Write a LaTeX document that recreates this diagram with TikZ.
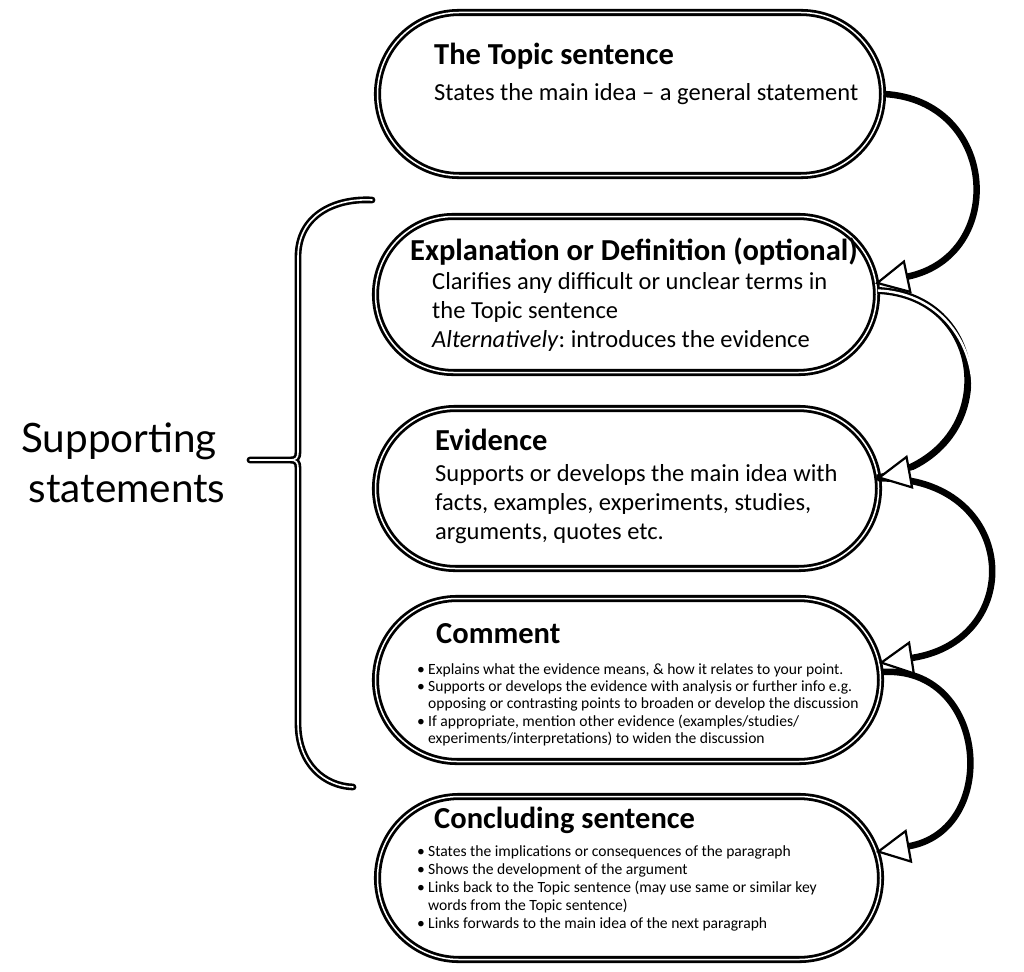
\documentclass[tikz,border=0pt]{standalone}
\usepackage{fontspec}
\setmainfont{Carlito}
\newfontfamily\labelfont{Lato}
\usetikzlibrary{shapes.misc, arrows.meta}

\newcommand\bulmark{\makebox[11pt][l]{•}}
\newcommand\bulindent{\hspace*{11pt}}
\frenchspacing

\begin{document}
\begin{tikzpicture}[x=1pt, y=-1pt,
  stadium/.style={rounded rectangle, draw=black, line width=2.8pt,
    double=white, double distance=1.5pt, inner sep=0pt},
  head/.style={anchor=base west, inner sep=0pt, font=\bfseries\fontsize{30.5}{36}\selectfont},
  body/.style={anchor=base west, inner sep=0pt, font=\fontsize{24.5}{28}\selectfont},
  small/.style={anchor=base west, inner sep=0pt, font=\fontsize{15.6}{19}\selectfont},
  side/.style={anchor=base, inner sep=0pt, font=\labelfont\fontsize{40.5}{48}\selectfont},
  opentip/.style={-{Triangle[length=34pt, width=34pt, fill=white, color=black, line width=2.2pt]}},
  flow/.style={draw=black, line width=6.5pt, opentip},
  bracket/.style={draw=black, line width=2.6pt, double=white, double distance=1.6pt,
    line cap=round, line join=round}
]
\fill[white] (0,0) rectangle (1024,971);
\useasboundingbox (0,0) rectangle (1024,971);

% the five stages of the paragraph
\node[stadium, minimum width=505pt, minimum height=163pt] (b1) at (630,94) {};
\node[stadium, minimum width=501pt, minimum height=156pt] (b2) at (626,294.5) {};
\node[stadium, minimum width=503pt, minimum height=160pt] (b3) at (627,488.5) {};
\node[stadium, minimum width=505pt, minimum height=163pt] (b4) at (628,680) {};
\node[stadium, minimum width=503pt, minimum height=163pt] (b5) at (629,878) {};

% topic sentence
\node[head] (h1) at (434,65) {The Topic sentence};
\node[body] (t1a) at (434,100) {States the main idea -- a general statement};

% explanation
\node[head] (h2) at (410,260) {Explanation or Definition (optional)};
\node[body] (t2a) at (432,289) {Clarifies any difficult or unclear terms in};
\node[body] (t2b) at (432,318) {the Topic sentence};
\node[body] (t2c) at (432,347) {\textit{Alternatively}: introduces the evidence};

% evidence
\node[head] (h3) at (435,450) {Evidence};
\node[body] (t3a) at (435,481) {Supports or develops the main idea with};
\node[body] (t3b) at (435,510) {facts, examples, experiments, studies,};
\node[body] (t3c) at (435,539) {arguments, quotes etc.};

% comment
\node[head] (h4) at (436,643) {Comment};
\node[small] (t4a) at (417,674) {\bulmark Explains what the evidence means, \& how it relates to your point.};
\node[small] (t4b) at (417,691) {\bulmark Supports or develops the evidence with analysis or further info e.g.};
\node[small] (t4c) at (417,708) {\bulindent opposing or contrasting points to broaden or develop the discussion};
\node[small] (t4d) at (417,726) {\bulmark If appropriate, mention other evidence (examples/studies/};
\node[small] (t4e) at (417,743) {\bulindent experiments/interpretations) to widen the discussion};

% concluding sentence
\node[head] (h5) at (434,828) {Concluding sentence};
\node[small] (t5a) at (417,856) {\bulmark States the implications or consequences of the paragraph};
\node[small] (t5b) at (417,874) {\bulmark Shows the development of the argument};
\node[small] (t5c) at (417,892) {\bulmark Links back to the Topic sentence (may use same or similar key};
\node[small] (t5d) at (417,910) {\bulindent words from the Topic sentence)};
\node[small] (t5e) at (417,928) {\bulmark Links forwards to the main idea of the next paragraph};

% group label and its bracket
\node[side] (s1) at (119,452) {Supporting};
\node[side] (s2) at (127,502) {statements};
\draw[bracket] (372,200) .. controls (335,198) and (298,215) .. (298,257)
  -- (298,452) .. controls (298,458) and (296,460) .. (290,460) -- (250,460)
  -- (290,460) .. controls (296,460) and (298,462) .. (298,468)
  -- (298,723) .. controls (298,765) and (325,786) .. (353,787);

% connectors, drawn bottom-up so each head covers the next start
\draw[flow] ([yshift=8pt]b4.east) .. controls +(106,-7) and +(125,-22) ..
  ([shift={(-6pt,26pt)}]b5.east);
\draw[flow] ([yshift=10pt]b3.east) .. controls +(138,-3) and +(150,-23) ..
  ([shift={(-3pt,17pt)}]b4.east);
\draw[draw=black, line width=7pt] ([yshift=4pt]b2.east) .. controls +(114,5) and +(127,-23) ..
  ([shift={(-3pt,10.5pt)}]b3.east);
\draw[draw=white, line width=2.4pt, opentip] ([yshift=4pt]b2.east) .. controls +(114,5) and +(127,-23) ..
  ([shift={(-3pt,10.5pt)}]b3.east);
\draw[flow] (b1.east) .. controls +(114,6) and +(133,-28) ..
  ([shift={(-3pt,11pt)}]b2.east);
\end{tikzpicture}
\end{document}
